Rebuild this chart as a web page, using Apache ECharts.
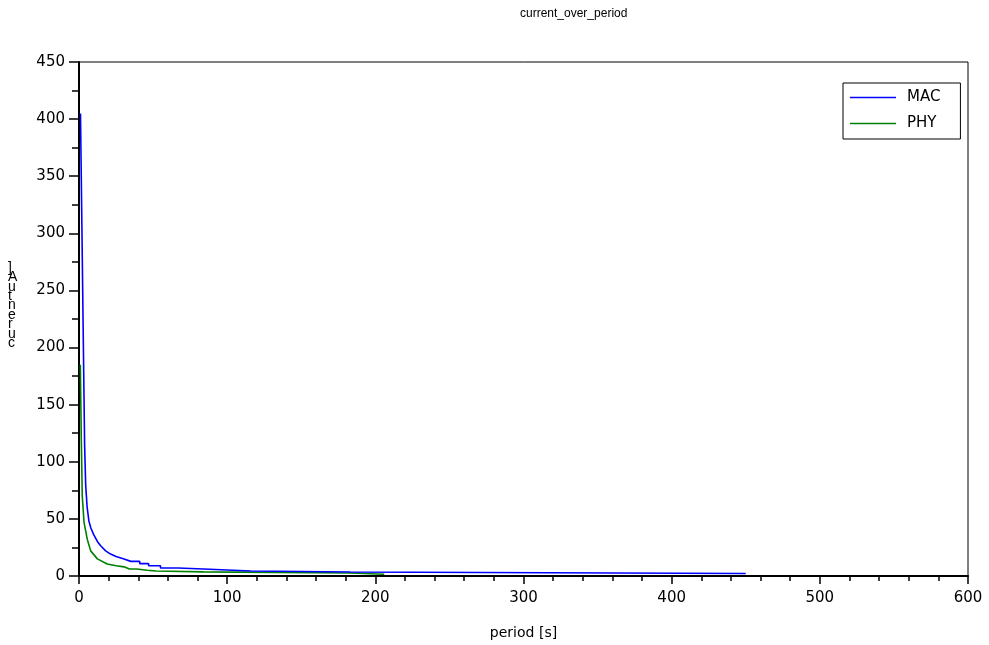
<!DOCTYPE html>
<html>
<head>
<meta charset="utf-8">
<script src="https://cdn.jsdelivr.net/npm/echarts@6/dist/echarts.min.js"></script>
<style>
  html, body { margin: 0; padding: 0; background: #fff; }
  #chart { width: 989px; height: 645px; }
</style>
</head>
<body>
<div id="chart"></div>
<script>
// Current drawn per period, for the MAC and PHY layers
const macPeriod  = [1, 3.8, 4.5, 5.5, 6.7, 8, 10, 12.5, 14.6, 18, 21.3, 25, 30.4, 35, 41, 41, 47, 47, 55, 55, 67, 67, 84, 84, 116, 116, 183, 183, 450];
const macCurrent = [405, 114, 80, 60, 48, 42, 36, 30, 26.5, 22, 19.2, 17, 14.9, 12.8, 12.8, 10.8, 10.8, 9, 9, 7, 7, 6.1, 6.1, 4.4, 4.4, 3.5, 3.5, 2.2, 2.2];

const phyPeriod  = [0.9, 1.55, 2.2, 3.4, 5.6, 7.9, 12.4, 19, 25, 30.4, 34, 39, 39, 46, 46, 52, 52, 84, 84, 183, 183, 206];
const phyCurrent = [185, 120, 70, 47, 32, 22, 15, 10.5, 9, 8, 6.1, 6.1, 5, 5, 4.4, 4.4, 3.6, 3.6, 2.6, 2.6, 1.5, 1.5];

const seriesNames = ['MAC', 'PHY'];
const xTicks = { min: 0, max: 600, step: 100 };
const yTicks = { min: 0, max: 450, step: 50 };
const yAxisGlyphs = [']', 'A', 'u', 't', 'n', 'e', 'r', 'u', 'c'];

const labelFont = 'DejaVu Sans';
const toPairs = (xs, ys) => xs.map((x, i) => [x, ys[i]]);

const chart = echarts.init(document.getElementById('chart'), null, { renderer: 'canvas' });

chart.setOption({
  animation: false,
  backgroundColor: '#fff',
  graphic: [
    {
      type: 'text',
      left: 520,
      top: 8,
      style: {
        text: 'current_over_period',
        x: 0, align: 'center',
        font: '12px "Liberation Sans"',
        fill: '#000'
      }
    },
    {
      type: 'text',
      left: 8,
      top: 261,
      style: {
        text: yAxisGlyphs.join('\n'),
        font: '14px "Liberation Sans"',
        lineHeight: 9.4,
        align: 'center',
        fill: '#000'
      }
    }
  ],
  legend: {
    data: seriesNames,
    orient: 'vertical',
    left: 843,
    top: 83,
    icon: 'rect',
    itemWidth: 46,
    itemHeight: 1.5,
    itemGap: 11,
    padding: [7, 20, 8, 7],
    borderColor: '#000',
    borderWidth: 1,
    backgroundColor: '#fff',
    textStyle: { fontFamily: labelFont, fontSize: 15, color: '#000', padding: [0, 0, 0, 6] }
  },
  grid: {
    left: 79, right: 21, top: 62, bottom: 68,
    show: true,
    borderColor: '#000',
    borderWidth: 1,
    containLabel: false
  },
  xAxis: {
    type: 'value',
    min: xTicks.min, max: xTicks.max, interval: xTicks.step,
    name: 'period [s]',
    nameLocation: 'middle',
    nameGap: 50,
    nameTextStyle: { fontFamily: labelFont, fontSize: 14, color: '#000' },
    axisLine: { show: true, onZero: false, lineStyle: { color: '#000', width: 2 } },
    axisTick: { show: true, length: 8, lineStyle: { color: '#000', width: 1.5 } },
    minorTick: { show: true, splitNumber: 5, length: 5, lineStyle: { color: '#000', width: 1.5 } },
    axisLabel: { fontFamily: labelFont, fontSize: 15, color: '#000', margin: 15 },
    splitLine: { show: false }
  },
  yAxis: {
    type: 'value',
    min: yTicks.min, max: yTicks.max, interval: yTicks.step,
    axisLine: { show: true, onZero: false, lineStyle: { color: '#000', width: 2 } },
    axisTick: { show: true, length: 10, lineStyle: { color: '#000', width: 1.5 } },
    minorTick: { show: true, splitNumber: 2, length: 7, lineStyle: { color: '#000', width: 1.5 } },
    axisLabel: { fontFamily: labelFont, fontSize: 15, color: '#000', margin: 14 },
    splitLine: { show: false }
  },
  series: [
    {
      name: seriesNames[0],
      type: 'line',
      data: toPairs(macPeriod, macCurrent),
      showSymbol: false,
      symbol: 'none',
      color: '#0000ff',
      lineStyle: { color: '#0000ff', width: 1.6 },
      z: 3
    },
    {
      name: seriesNames[1],
      type: 'line',
      data: toPairs(phyPeriod, phyCurrent),
      showSymbol: false,
      symbol: 'none',
      color: '#008000',
      lineStyle: { color: '#008000', width: 1.6 },
      z: 2
    }
  ]
});
</script>
</body>
</html>
